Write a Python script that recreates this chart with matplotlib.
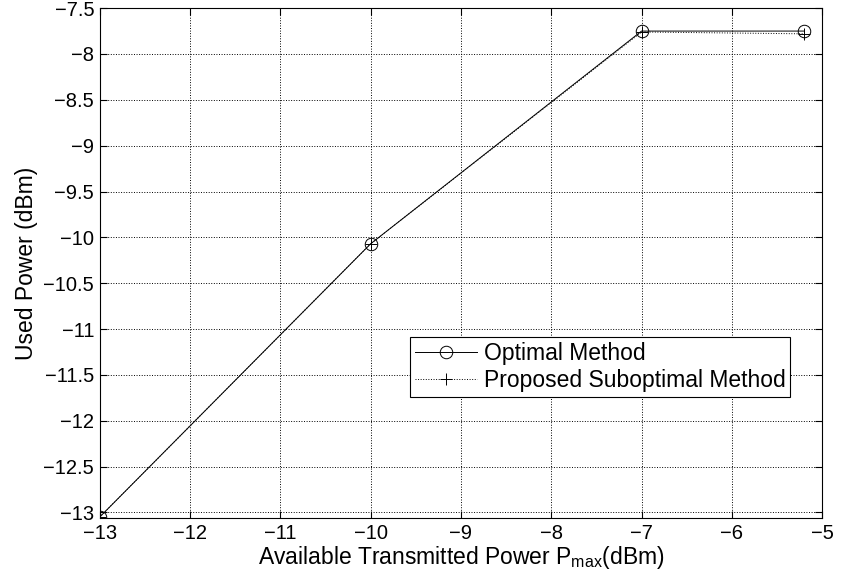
import matplotlib
matplotlib.use("Agg")
import matplotlib.pyplot as plt

plt.rcParams['font.family'] = ['Liberation Sans', 'DejaVu Sans']
plt.rcParams['mathtext.fontset'] = 'custom'
plt.rcParams['mathtext.rm'] = 'Liberation Sans'
plt.rcParams['mathtext.it'] = 'Liberation Sans:italic'

# data
pmax = [-13, -10, -7, -5.2]
optimal = [-13.05, -10.07, -7.75, -7.75]
suboptimal = [-13.05, -10.07, -7.76, -7.78]

xticks = [-13, -12, -11, -10, -9, -8, -7, -6, -5]
yticks = [-13, -12.5, -12, -11.5, -11, -10.5, -10, -9.5, -9, -8.5, -8, -7.5]

fig = plt.figure(figsize=(8.52, 5.82), dpi=100)
ax = fig.add_axes([0.117, 0.11, 0.848, 0.876])

ax.plot(pmax, optimal, '-', color='black', lw=0.7, marker='o', ms=9,
        mfc='none', mew=0.7, label='Optimal Method')
ax.plot(pmax, suboptimal, ':', color='black', lw=0.7, marker='+', ms=9,
        mew=0.7, label='Proposed Suboptimal Method')

ax.set_xlim(-13, -5)
ax.set_ylim(-13.06, -7.5)
ax.set_xticks(xticks)
ax.set_yticks(yticks)
ax.set_xticklabels([str(t).replace('-', '\u2212') for t in xticks])
ax.set_yticklabels([('%g' % t).replace('-', '\u2212') for t in yticks])

ax.grid(True, linestyle=':', color='black', lw=0.7)
ax.tick_params(direction='in', top=True, right=True, length=5, width=0.8,
               labelsize=14.5, pad=4)
for s in ax.spines.values():
    s.set_linewidth(0.8)

ax.set_xlabel(r'Available Transmitted Power P$_{\mathrm{max}}$(dBm)', fontsize=16.5, labelpad=1)
ax.set_ylabel('Used Power (dBm)', fontsize=16.5, labelpad=4)

leg = ax.legend(loc='upper left', bbox_to_anchor=(0.43, 0.355), fontsize=16.5,
                fancybox=False, edgecolor='black', framealpha=1,
                handlelength=2.7, borderpad=0.2, labelspacing=0.2,
                handletextpad=0.3, borderaxespad=0)
leg.get_frame().set_linewidth(0.8)

fig.savefig('out.png', dpi=100)
